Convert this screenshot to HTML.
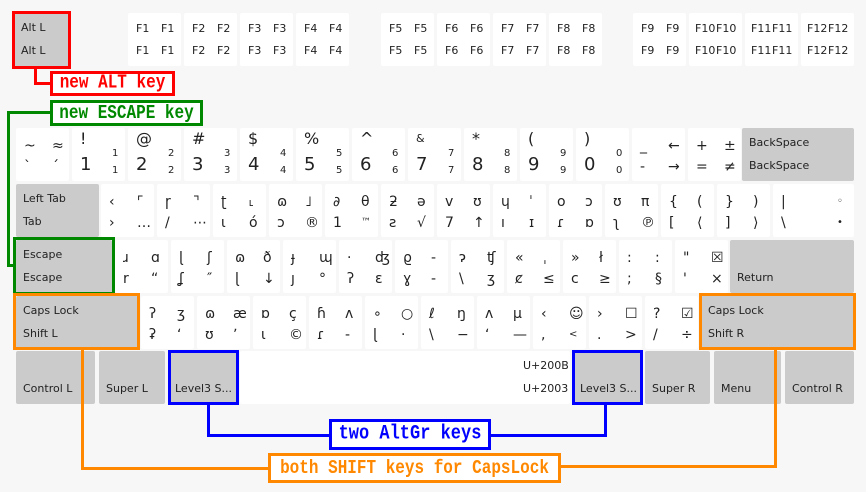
<!DOCTYPE html>
<html><head><meta charset="utf-8"><style>
body{margin:0;width:866px;height:492px;background:#f7f7f7;position:relative;overflow:hidden;font-family:"DejaVu Sans","Liberation Sans",sans-serif;color:#222}
.k{position:absolute;background:#fff;border-radius:2px;height:53px;width:53px}
.g{background:#cbcbcb}
.k span{position:absolute;font-size:14px;line-height:18px;white-space:nowrap}
.a{left:8px;top:9px}.b{left:36px;top:9px}.c{left:8px;top:30px}.d{left:36px;top:30px}
.f span{font-size:11px}
.f .a,.f .b{top:7px}.f .c,.f .d{top:29px}
.f .b,.f .d{left:33px}
.t span{font-size:11px;left:7px}
.t .a{top:6px}.t .c{top:29px}
.n .a{font-size:16px;top:2px}.n .b,.n .d{font-size:10px;left:40px}.n .b{top:17px}.n .d{top:34px}
.n .c{font-size:18px;top:28px}
.bx{position:absolute;border:3px solid;box-sizing:border-box}
.ln{position:absolute}
.lab{position:absolute;border:3px solid;background:#fff;font-family:"Liberation Mono",monospace;font-weight:bold;font-size:16px;text-align:center;box-sizing:border-box}
.lab i{font-style:normal;display:inline-block;transform:scaleY(1.2);vertical-align:top}
</style></head><body>

<div class="k g t" style="left:14px;top:13px;width:56px"><span class="a">Alt L</span><span class="c">Alt L</span></div>
<div class="k f" style="left:128px;top:13px"><span class="a">F1</span><span class="b">F1</span><span class="c">F1</span><span class="d">F1</span></div>
<div class="k f" style="left:184px;top:13px"><span class="a">F2</span><span class="b">F2</span><span class="c">F2</span><span class="d">F2</span></div>
<div class="k f" style="left:240px;top:13px"><span class="a">F3</span><span class="b">F3</span><span class="c">F3</span><span class="d">F3</span></div>
<div class="k f" style="left:296px;top:13px"><span class="a">F4</span><span class="b">F4</span><span class="c">F4</span><span class="d">F4</span></div>
<div class="k f" style="left:381px;top:13px"><span class="a">F5</span><span class="b">F5</span><span class="c">F5</span><span class="d">F5</span></div>
<div class="k f" style="left:437px;top:13px"><span class="a">F6</span><span class="b">F6</span><span class="c">F6</span><span class="d">F6</span></div>
<div class="k f" style="left:493px;top:13px"><span class="a">F7</span><span class="b">F7</span><span class="c">F7</span><span class="d">F7</span></div>
<div class="k f" style="left:549px;top:13px"><span class="a">F8</span><span class="b">F8</span><span class="c">F8</span><span class="d">F8</span></div>
<div class="k f" style="left:633px;top:13px"><span class="a">F9</span><span class="b">F9</span><span class="c">F9</span><span class="d">F9</span></div>
<div class="k f" style="left:689px;top:13px"><span class="a" style="left:6px">F10</span><span class="b" style="left:27px">F10</span><span class="c" style="left:6px">F10</span><span class="d" style="left:27px">F10</span></div>
<div class="k f" style="left:745px;top:13px"><span class="a" style="left:6px">F11</span><span class="b" style="left:27px">F11</span><span class="c" style="left:6px">F11</span><span class="d" style="left:27px">F11</span></div>
<div class="k f" style="left:801px;top:13px"><span class="a" style="left:6px">F12</span><span class="b" style="left:27px">F12</span><span class="c" style="left:6px">F12</span><span class="d" style="left:27px">F12</span></div>

<div class="k" style="left:16px;top:128px"><span class="a">~</span><span class="b">≈</span><span class="c">`</span><span class="d">´</span></div>
<div class="k n" style="left:72px;top:128px"><span class="a">!</span><span class="b">1</span><span class="c">1</span><span class="d">1</span></div>
<div class="k n" style="left:128px;top:128px"><span class="a">@</span><span class="b">2</span><span class="c">2</span><span class="d">2</span></div>
<div class="k n" style="left:184px;top:128px"><span class="a">#</span><span class="b">3</span><span class="c">3</span><span class="d">3</span></div>
<div class="k n" style="left:240px;top:128px"><span class="a">$</span><span class="b">4</span><span class="c">4</span><span class="d">4</span></div>
<div class="k n" style="left:296px;top:128px"><span class="a">%</span><span class="b">5</span><span class="c">5</span><span class="d">5</span></div>
<div class="k n" style="left:352px;top:128px"><span class="a">^</span><span class="b">6</span><span class="c">6</span><span class="d">6</span></div>
<div class="k n" style="left:408px;top:128px"><span class="a" style="font-size:11px">&amp;</span><span class="b">7</span><span class="c">7</span><span class="d">7</span></div>
<div class="k n" style="left:464px;top:128px"><span class="a">*</span><span class="b">8</span><span class="c">8</span><span class="d">8</span></div>
<div class="k n" style="left:520px;top:128px"><span class="a">(</span><span class="b">9</span><span class="c">9</span><span class="d">9</span></div>
<div class="k n" style="left:576px;top:128px"><span class="a">)</span><span class="b">0</span><span class="c">0</span><span class="d">0</span></div>
<div class="k" style="left:632px;top:128px"><span class="a">_</span><span class="b">←</span><span class="c">-</span><span class="d">→</span></div>
<div class="k" style="left:688px;top:128px"><span class="a">+</span><span class="b">±</span><span class="c">=</span><span class="d">≠</span></div>
<div class="k g t" style="left:742px;top:128px;width:112px"><span class="a">BackSpace</span><span class="c">BackSpace</span></div>

<div class="k g t" style="left:16px;top:184px;width:83px"><span class="a">Left Tab</span><span class="c">Tab</span></div>
<div class="k" style="left:101px;top:184px"><span class="a">‹</span><span class="b">⌜</span><span class="c">›</span><span class="d">…</span></div>
<div class="k" style="left:157px;top:184px"><span class="a">ɼ</span><span class="b">⌝</span><span class="c">/</span><span class="d">⋯</span></div>
<div class="k" style="left:213px;top:184px"><span class="a">ʈ</span><span class="b">˪</span><span class="c">ɩ</span><span class="d">ó</span></div>
<div class="k" style="left:269px;top:184px"><span class="a">ɷ</span><span class="b">˩</span><span class="c">ɔ</span><span class="d">®</span></div>
<div class="k" style="left:325px;top:184px"><span class="a">∂</span><span class="b">θ</span><span class="c">1</span><span class="d" style="font-size:10px">™</span></div>
<div class="k" style="left:381px;top:184px"><span class="a">ƻ</span><span class="b">ə</span><span class="c">ƨ</span><span class="d">√</span></div>
<div class="k" style="left:437px;top:184px"><span class="a">v</span><span class="b">ʊ</span><span class="c">7</span><span class="d">↑</span></div>
<div class="k" style="left:493px;top:184px"><span class="a">ɥ</span><span class="b">ˈ</span><span class="c">ı</span><span class="d">ɪ</span></div>
<div class="k" style="left:549px;top:184px"><span class="a">o</span><span class="b">ɔ</span><span class="c">ɾ</span><span class="d">ɒ</span></div>
<div class="k" style="left:605px;top:184px"><span class="a">ʊ</span><span class="b">π</span><span class="c">ʅ</span><span class="d">℗</span></div>
<div class="k" style="left:661px;top:184px"><span class="a">{</span><span class="b">(</span><span class="c">[</span><span class="d">⟨</span></div>
<div class="k" style="left:717px;top:184px"><span class="a">}</span><span class="b">)</span><span class="c">]</span><span class="d">⟩</span></div>
<div class="k" style="left:773px;top:184px;width:81px"><span class="a">|</span><span class="b" style="left:64px;font-size:10px">◦</span><span class="c">\</span><span class="d" style="left:64px;font-size:10px">•</span></div>

<div class="k g t" style="left:16px;top:240px;width:96px"><span class="a">Escape</span><span class="c">Escape</span></div>
<div class="k" style="left:115px;top:240px"><span class="a">ɹ</span><span class="b">ɑ</span><span class="c">r</span><span class="d">“</span></div>
<div class="k" style="left:171px;top:240px"><span class="a">ɭ</span><span class="b">ʃ</span><span class="c">ʆ</span><span class="d">″</span></div>
<div class="k" style="left:227px;top:240px"><span class="a">ɷ</span><span class="b">ð</span><span class="c">ɭ</span><span class="d">↓</span></div>
<div class="k" style="left:283px;top:240px"><span class="a">ɟ</span><span class="b">ɰ</span><span class="c">ȷ</span><span class="d">°</span></div>
<div class="k" style="left:339px;top:240px"><span class="a">·</span><span class="b">ʤ</span><span class="c">ʔ</span><span class="d">ɛ</span></div>
<div class="k" style="left:395px;top:240px"><span class="a">ϱ</span><span class="b">-</span><span class="c">ɣ</span><span class="d">-</span></div>
<div class="k" style="left:451px;top:240px"><span class="a">ɂ</span><span class="b">ʧ</span><span class="c">\</span><span class="d">ʒ</span></div>
<div class="k" style="left:507px;top:240px"><span class="a">«</span><span class="b">ˌ</span><span class="c">ȼ</span><span class="d">≤</span></div>
<div class="k" style="left:563px;top:240px"><span class="a">»</span><span class="b">ł</span><span class="c">c</span><span class="d">≥</span></div>
<div class="k" style="left:619px;top:240px"><span class="a">:</span><span class="b">:</span><span class="c">;</span><span class="d">§</span></div>
<div class="k" style="left:675px;top:240px"><span class="a">"</span><span class="b">☒</span><span class="c">'</span><span class="d">×</span></div>
<div class="k g t" style="left:730px;top:240px;width:124px"><span class="c">Return</span></div>

<div class="k g t" style="left:16px;top:296px;width:122px"><span class="a">Caps Lock</span><span class="c">Shift L</span></div>
<div class="k" style="left:141px;top:296px"><span class="a">ʔ</span><span class="b">ʒ</span><span class="c">ʡ</span><span class="d">ʻ</span></div>
<div class="k" style="left:197px;top:296px"><span class="a">ɷ</span><span class="b">æ</span><span class="c">ʊ</span><span class="d">ʼ</span></div>
<div class="k" style="left:253px;top:296px"><span class="a">ɒ</span><span class="b">ç</span><span class="c">ɩ</span><span class="d">©</span></div>
<div class="k" style="left:309px;top:296px"><span class="a">ɦ</span><span class="b">ʌ</span><span class="c">ɾ</span><span class="d">-</span></div>
<div class="k" style="left:365px;top:296px"><span class="a">∘</span><span class="b">○</span><span class="c">ɭ</span><span class="d">·</span></div>
<div class="k" style="left:421px;top:296px"><span class="a">ℓ</span><span class="b">ŋ</span><span class="c">\</span><span class="d">−</span></div>
<div class="k" style="left:477px;top:296px"><span class="a">ʌ</span><span class="b">μ</span><span class="c">ʻ</span><span class="d">—</span></div>
<div class="k" style="left:533px;top:296px"><span class="a">‹</span><span class="b">☺</span><span class="c">,</span><span class="d" style="font-size:10px">&lt;</span></div>
<div class="k" style="left:589px;top:296px"><span class="a">›</span><span class="b">☐</span><span class="c">.</span><span class="d">&gt;</span></div>
<div class="k" style="left:645px;top:296px"><span class="a">?</span><span class="b">☑</span><span class="c">/</span><span class="d">÷</span></div>
<div class="k g t" style="left:701px;top:296px;width:153px"><span class="a">Caps Lock</span><span class="c">Shift R</span></div>

<div class="k g t" style="left:16px;top:351px;width:79px"><span class="c">Control L</span></div>
<div class="k g t" style="left:99px;top:351px;width:66px"><span class="c">Super L</span></div>
<div class="k g t" style="left:169px;top:351px;width:68px"><span class="c" style="left:6px">Level3 S...</span></div>
<div class="k t" style="left:240px;top:351px;width:330px"><span class="a" style="left:283px">U+200B</span><span class="c" style="left:283px">U+2003</span></div>
<div class="k g t" style="left:574px;top:351px;width:67px"><span class="c" style="left:6px">Level3 S...</span></div>
<div class="k g t" style="left:645px;top:351px;width:65px"><span class="c">Super R</span></div>
<div class="k g t" style="left:714px;top:351px;width:67px"><span class="c">Menu</span></div>
<div class="k g t" style="left:785px;top:351px;width:69px"><span class="c">Control R</span></div>

<div class="bx" style="left:12px;top:11px;width:59px;height:58px;border-color:#f00"></div>
<div class="ln" style="left:34px;top:68px;width:3px;height:17px;background:#f00"></div>
<div class="ln" style="left:34px;top:82px;width:18px;height:3px;background:#f00"></div>
<div class="lab" style="left:50px;top:71px;width:125px;height:25px;line-height:19px;border-color:#f00;color:#f00"><i>new ALT key</i></div>

<div class="ln" style="left:7px;top:111px;width:45px;height:3px;background:#080"></div>
<div class="ln" style="left:7px;top:111px;width:3px;height:156px;background:#080"></div>
<div class="ln" style="left:7px;top:264px;width:8px;height:3px;background:#080"></div>
<div class="lab" style="left:50px;top:100px;width:153px;height:26px;line-height:20px;border-color:#080;color:#080"><i>new ESCAPE key</i></div>
<div class="bx" style="left:13px;top:237px;width:102px;height:58px;border-color:#080"></div>

<div class="bx" style="left:13px;top:293px;width:127px;height:57px;border-color:#f80"></div>
<div class="bx" style="left:699px;top:293px;width:157px;height:57px;border-color:#f80"></div>
<div class="ln" style="left:81px;top:349px;width:3px;height:121px;background:#f80"></div>
<div class="ln" style="left:81px;top:467px;width:190px;height:3px;background:#f80"></div>
<div class="ln" style="left:774px;top:349px;width:3px;height:119px;background:#f80"></div>
<div class="ln" style="left:558px;top:465px;width:219px;height:3px;background:#f80"></div>
<div class="lab" style="left:268px;top:453px;width:293px;height:30px;line-height:24px;border-color:#f80;color:#f80"><i>both SHIFT keys for CapsLock</i></div>

<div class="bx" style="left:168px;top:350px;width:71px;height:55px;border-color:#00f"></div>
<div class="bx" style="left:572px;top:350px;width:71px;height:55px;border-color:#00f"></div>
<div class="ln" style="left:207px;top:404px;width:3px;height:33px;background:#00f"></div>
<div class="ln" style="left:207px;top:434px;width:125px;height:3px;background:#00f"></div>
<div class="ln" style="left:604px;top:404px;width:3px;height:33px;background:#00f"></div>
<div class="ln" style="left:488px;top:434px;width:119px;height:3px;background:#00f"></div>
<div class="lab" style="left:329px;top:419px;width:162px;height:31px;line-height:25px;border-color:#00f;color:#00f;font-size:17px"><i>two AltGr keys</i></div>

</body></html>
